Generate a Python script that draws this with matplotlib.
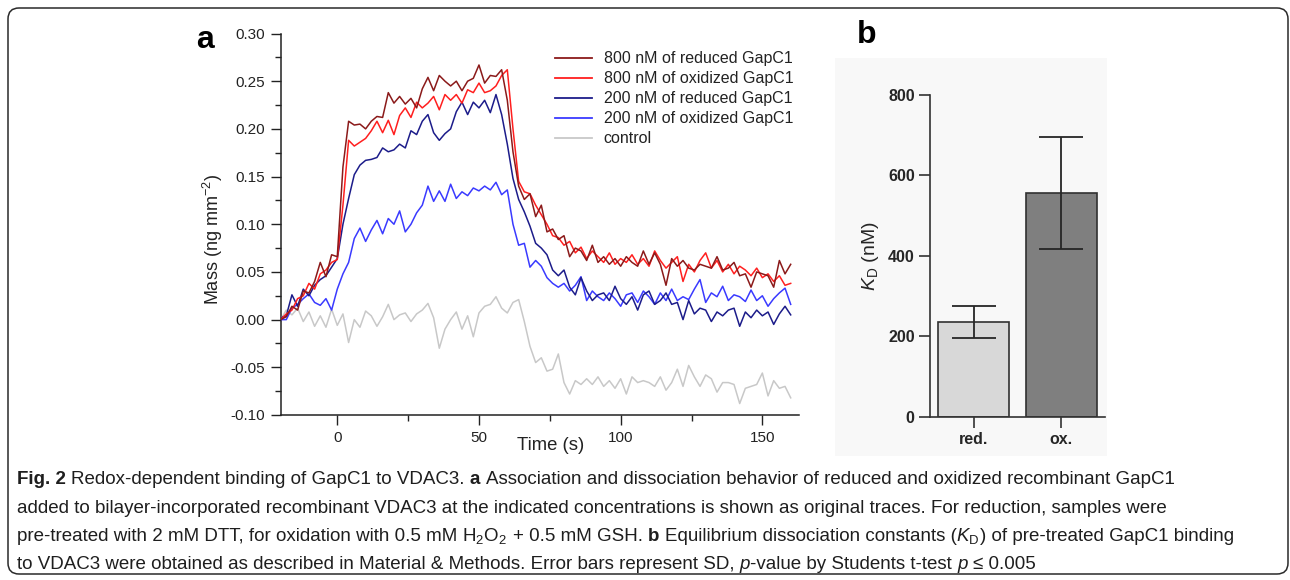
import matplotlib
matplotlib.use('Agg')
import matplotlib.pyplot as plt
import numpy as np
from matplotlib.patches import FancyBboxPatch, Rectangle
from matplotlib.ticker import MultipleLocator, FormatStrFormatter

plt.rcParams['font.family'] = ['Liberation Sans', 'DejaVu Sans']
plt.rcParams['mathtext.fontset'] = 'custom'
plt.rcParams['mathtext.rm'] = 'Liberation Sans'
plt.rcParams['mathtext.it'] = 'Liberation Sans:italic'
plt.rcParams['mathtext.bf'] = 'Liberation Sans:bold'
plt.rcParams['axes.unicode_minus'] = False

# ---------------- data: panel a (time in s, mass in ng mm^-2) ----------------
time_s = [-20, -18, -16, -14, -12, -10, -8, -6, -4, -2,
          0, 2, 4, 6, 8, 10, 12, 14, 16, 18,
          20, 22, 24, 26, 28, 30, 32, 34, 36, 38,
          40, 42, 44, 46, 48, 50, 52, 54, 56, 58,
          60, 62, 64, 66, 68, 70, 72, 74, 76, 78,
          80, 82, 84, 86, 88, 90, 92, 94, 96, 98,
          100, 102, 104, 106, 108, 110, 112, 114, 116, 118,
          120, 122, 124, 126, 128, 130, 132, 134, 136, 138,
          140, 142, 144, 146, 148, 150, 152, 154, 156, 158, 160]

red800 = [0.000, 0.003, 0.014, 0.010, 0.030, 0.028, 0.040, 0.060, 0.045, 0.068,
          0.066, 0.160, 0.208, 0.204, 0.205, 0.200, 0.208, 0.213, 0.212, 0.238,
          0.227, 0.234, 0.226, 0.232, 0.222, 0.242, 0.254, 0.240, 0.256, 0.250,
          0.245, 0.250, 0.240, 0.250, 0.253, 0.267, 0.248, 0.256, 0.255, 0.262,
          0.230, 0.176, 0.140, 0.126, 0.132, 0.108, 0.120, 0.092, 0.095, 0.084,
          0.088, 0.066, 0.075, 0.072, 0.062, 0.078, 0.060, 0.066, 0.058, 0.064,
          0.056, 0.066, 0.060, 0.056, 0.072, 0.058, 0.070, 0.058, 0.036, 0.064,
          0.056, 0.062, 0.054, 0.052, 0.058, 0.056, 0.054, 0.066, 0.052, 0.054,
          0.060, 0.046, 0.048, 0.034, 0.050, 0.048, 0.046, 0.034, 0.062, 0.048, 0.058]

ox800 = [0.000, 0.006, 0.010, 0.022, 0.025, 0.038, 0.032, 0.048, 0.052, 0.060,
         0.063, 0.120, 0.188, 0.182, 0.186, 0.190, 0.198, 0.208, 0.196, 0.209,
         0.194, 0.214, 0.222, 0.212, 0.228, 0.222, 0.227, 0.234, 0.220, 0.236,
         0.230, 0.236, 0.227, 0.241, 0.238, 0.248, 0.238, 0.240, 0.245, 0.256,
         0.262, 0.200, 0.145, 0.134, 0.132, 0.120, 0.110, 0.100, 0.088, 0.086,
         0.078, 0.082, 0.070, 0.076, 0.064, 0.072, 0.066, 0.060, 0.070, 0.058,
         0.064, 0.060, 0.068, 0.058, 0.064, 0.056, 0.072, 0.062, 0.054, 0.060,
         0.066, 0.040, 0.058, 0.050, 0.062, 0.070, 0.054, 0.062, 0.050, 0.058,
         0.048, 0.056, 0.052, 0.046, 0.054, 0.044, 0.048, 0.040, 0.046, 0.036, 0.038]

red200 = [0.002, 0.004, 0.026, 0.014, 0.032, 0.025, 0.036, 0.042, 0.046, 0.055,
          0.064, 0.100, 0.127, 0.152, 0.162, 0.167, 0.168, 0.170, 0.180, 0.176,
          0.178, 0.184, 0.180, 0.198, 0.194, 0.208, 0.215, 0.196, 0.188, 0.195,
          0.200, 0.218, 0.228, 0.215, 0.228, 0.222, 0.230, 0.217, 0.236, 0.215,
          0.184, 0.148, 0.126, 0.113, 0.098, 0.080, 0.075, 0.068, 0.052, 0.046,
          0.052, 0.034, 0.026, 0.044, 0.030, 0.020, 0.026, 0.028, 0.020, 0.035,
          0.022, 0.016, 0.024, 0.010, 0.026, 0.030, 0.016, 0.020, 0.028, 0.016,
          0.018, 0.000, 0.020, 0.006, 0.012, 0.010, -0.002, 0.008, 0.004, 0.010,
          0.012, -0.007, 0.008, 0.002, 0.010, 0.004, 0.008, -0.005, 0.006, 0.014, 0.005]

ox200 = [0.000, 0.000, 0.012, 0.016, 0.022, 0.027, 0.018, 0.015, 0.022, 0.010,
         0.032, 0.048, 0.060, 0.085, 0.096, 0.082, 0.094, 0.104, 0.090, 0.106,
         0.100, 0.114, 0.092, 0.100, 0.112, 0.120, 0.140, 0.124, 0.135, 0.124,
         0.142, 0.127, 0.134, 0.130, 0.138, 0.135, 0.140, 0.136, 0.144, 0.131,
         0.136, 0.100, 0.078, 0.080, 0.055, 0.062, 0.056, 0.044, 0.038, 0.034,
         0.038, 0.030, 0.036, 0.045, 0.020, 0.030, 0.024, 0.020, 0.028, 0.022,
         0.014, 0.026, 0.028, 0.018, 0.030, 0.024, 0.016, 0.028, 0.020, 0.032,
         0.020, 0.024, 0.021, 0.032, 0.042, 0.018, 0.028, 0.024, 0.035, 0.020,
         0.026, 0.024, 0.019, 0.031, 0.020, 0.025, 0.014, 0.022, 0.028, 0.033, 0.016]

control = [0.000, 0.010, 0.005, 0.012, -0.002, 0.008, -0.007, 0.004, -0.008, 0.011,
           -0.006, 0.006, -0.024, 0.000, -0.008, 0.009, 0.004, -0.007, 0.003, 0.016,
           0.000, 0.005, 0.007, -0.002, 0.006, 0.010, 0.017, 0.002, -0.030, -0.010,
           0.000, 0.008, -0.010, 0.004, -0.018, 0.007, 0.014, 0.016, 0.024, 0.012,
           0.007, 0.018, 0.021, -0.002, -0.028, -0.045, -0.040, -0.054, -0.052, -0.036,
           -0.066, -0.078, -0.064, -0.068, -0.062, -0.068, -0.060, -0.070, -0.064, -0.072,
           -0.062, -0.078, -0.060, -0.066, -0.064, -0.066, -0.070, -0.060, -0.074, -0.066,
           -0.052, -0.070, -0.048, -0.060, -0.070, -0.058, -0.062, -0.076, -0.066, -0.066,
           -0.068, -0.088, -0.072, -0.070, -0.068, -0.056, -0.080, -0.064, -0.072, -0.070, -0.082]

series_labels = ['800 nM of reduced GapC1', '800 nM of oxidized GapC1',
                 '200 nM of reduced GapC1', '200 nM of oxidized GapC1', 'control']
series_colors = ['#8b1a1a', '#ff1f1f', '#1c1c8a', '#3a3aff', '#c8c8c8']

# ---------------- data: panel b ----------------
kd_labels = ['red.', 'ox.']
kd_values = [236, 556]
kd_sd = [40, 140]
kd_colors = ['#d8d8d8', '#7f7f7f']

# ---------------- figure ----------------
W, H = 1290, 580
fig = plt.figure(figsize=(W / 100, H / 100), dpi=100)

bg = fig.add_axes([0, 0, 1, 1], zorder=-5)
bg.set_xlim(0, W)
bg.set_ylim(H, 0)
bg.axis('off')
bg.add_patch(FancyBboxPatch((8, 8), 1280, 566,
                            boxstyle='round,pad=0,rounding_size=11',
                            fc='white', ec='#2a2a2a', lw=1.1))
bg.add_patch(Rectangle((835, 58), 272, 398, fc='#f8f8f8', ec='none'))

# ---- panel a ----
def fx(px):
    return px / W

def fy(py):
    return 1 - py / H

ax = fig.add_axes([fx(280.6), fy(415), fx(799.2) - fx(280.6), fy(33.5) - fy(415)])
ax.set_facecolor('none')
traces = [red800, ox800, red200, ox200, control]
order = [4, 3, 2, 1, 0]
handles = {}
for i in order:
    ln, = ax.plot(time_s, traces[i], color=series_colors[i], lw=1.1,
                  label=series_labels[i], zorder=3 + (4 - i))
    handles[i] = ln
ax.set_xlim(-20, 163)
ax.set_ylim(-0.10, 0.30)
for s in ['top', 'right']:
    ax.spines[s].set_visible(False)
for s in ['left', 'bottom']:
    ax.spines[s].set_linewidth(1.1)
    ax.spines[s].set_color('#222222')
ax.yaxis.set_major_locator(MultipleLocator(0.05))
ax.yaxis.set_minor_locator(MultipleLocator(0.025))
ax.yaxis.set_major_formatter(FormatStrFormatter('%.2f'))
ax.xaxis.set_major_locator(MultipleLocator(50))
ax.xaxis.set_minor_locator(MultipleLocator(25))
ax.tick_params(which='major', direction='out', length=7, width=1.0, color='#222222',
               labelsize=11, pad=4.5, labelcolor='#222222')
ax.tick_params(which='minor', direction='out', length=4, width=1.0, color='#222222')
ax.set_ylabel('Mass (ng mm$^{-2}$)', fontsize=13, color='#222222')
ax.yaxis.set_label_coords(-0.107, 0.461)
ax.set_xlabel('Time (s)', fontsize=13.3, color='#222222')
ax.xaxis.set_label_coords(0.52, -0.058)

leg = ax.legend([handles[i] for i in range(5)], series_labels,
                loc='upper left', bbox_to_anchor=(fx(555), fy(51.5)),
                bbox_transform=fig.transFigure, frameon=False, fontsize=11.5,
                handlelength=2.3, handletextpad=0.75, labelspacing=0.31,
                borderpad=0, borderaxespad=0)
for t in leg.get_texts():
    t.set_color('#222222')
for l in leg.get_lines():
    l.set_linewidth(1.3)

bg.text(205, 40, 'a', fontsize=23, fontweight='bold', ha='center', va='center')
bg.text(867, 35, 'b', fontsize=23, fontweight='bold', ha='center', va='center')

# ---- panel b ----
axb = fig.add_axes([fx(930), fy(416.7), fx(1105) - fx(930), fy(95) - fy(416.7)])
axb.set_facecolor('none')
xpos = np.arange(len(kd_labels))
axb.bar(xpos, kd_values, width=0.815, color=kd_colors, edgecolor='#303030', linewidth=1.2,
        yerr=kd_sd, capsize=16,
        error_kw=dict(elinewidth=1.3, capthick=1.3, ecolor='#262626'), zorder=2)
axb.set_xlim(-0.5, 1.5)
axb.set_ylim(0, 800)
axb.set_yticks([0, 200, 400, 600, 800])
axb.set_xticks(xpos)
axb.set_xticklabels(kd_labels)
for s in ['top', 'right']:
    axb.spines[s].set_visible(False)
for s in ['left', 'bottom']:
    axb.spines[s].set_linewidth(1.2)
    axb.spines[s].set_color('#333333')
axb.tick_params(direction='out', length=8, width=1.2, color='#333333', labelsize=11.5,
                pad=3, labelcolor='#262626')
for lab in axb.get_xticklabels() + axb.get_yticklabels():
    lab.set_fontweight('bold')
axb.set_ylabel('$K_\\mathrm{D}$ (nM)', fontsize=14, color='#262626')
axb.yaxis.set_label_coords(-0.28, 0.5)

# ---- caption ----
renderer = fig.canvas.get_renderer()
cap_color = '#1e1e1e'
N, B = 'normal', 'bold'
caption_lines = [
    (484, [('Fig. 2', B, N, True),
           ('Redox-dependent binding of GapC1 to VDAC3.', N, N, True),
           ('a', B, N, True),
           ('Association and dissociation behavior of reduced and oxidized recombinant GapC1', N, N, False)]),
    (513, [('added to bilayer-incorporated recombinant VDAC3 at the indicated concentrations is shown as original traces. For reduction, samples were', N, N, False)]),
    (541, [('pre-treated with 2 mM DTT, for oxidation with 0.5 mM', N, N, True),
           ('H$_2$O$_2$', N, N, True),
           ('+ 0.5 mM GSH.', N, N, True),
           ('b', B, N, True),
           ('Equilibrium dissociation constants (', N, N, False),
           ('$K_\\mathrm{D}$', N, N, False),
           (') of pre-treated GapC1 binding', N, N, False)]),
    (569, [('to VDAC3 were obtained as described in Material & Methods. Error bars represent SD,', N, N, True),
           ('p', N, 'italic', False),
           ('-value by Students t-test', N, N, True),
           ('p', N, 'italic', True),
           ('\u2264 0.005', N, N, False)]),
]


def text_width(s, size, **kw):
    t = bg.text(0, 0, s, fontsize=size, **kw)
    w = t.get_window_extent(renderer=renderer).width
    t.remove()
    return w


def line_width(runs, size):
    sp = text_width('a a', size) - text_width('aa', size)
    total = 0
    for s, weight, style, has_sp in runs:
        total += text_width(s, size, fontweight=weight, fontstyle=style)
        if has_sp:
            total += sp
    return total


base_size = 14.1
widest = max(line_width(r, base_size) for _, r in caption_lines)
cap_size = base_size * min(1.0, 1226.0 / widest)
space_w = text_width('a a', cap_size) - text_width('aa', cap_size)


def draw_runs(y, runs, x0=17):
    x = x0
    for s, weight, style, sp in runs:
        t = bg.text(x, y, s, fontsize=cap_size, fontweight=weight, fontstyle=style,
                    ha='left', va='baseline', color=cap_color)
        x += t.get_window_extent(renderer=renderer).width
        if sp:
            x += space_w


for y, runs in caption_lines:
    draw_runs(y, runs)

fig.savefig('out.png', dpi=100)
